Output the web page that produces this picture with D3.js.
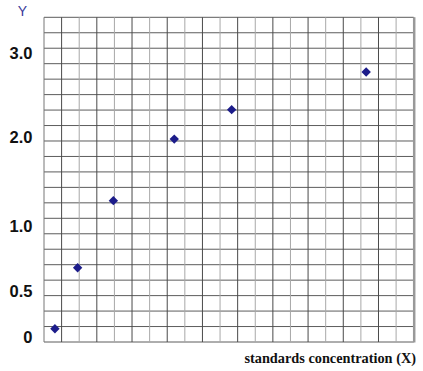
<!DOCTYPE html>
<html>
<head>
<meta charset="utf-8">
<script src="https://cdn.jsdelivr.net/npm/d3@7"></script>
<style>
  body { margin: 0; background: #fff; }
  svg { display: block; }
</style>
</head>
<body>
<svg width="423" height="371"></svg>
<script>
// Graph paper: 21 x 21 cells
let cellsX = 21;
let cellsY = 21;

// Hand written y labels (value positions on the paper)
let yTicks = [0, 0.5, 1.0, 2.0, 3.0];
let yTickLabels = ["0", "0.5", "1.0", "2.0", "3.0"];

// Standards (x in grid cells, y in absorbance units)
let stdX = [0.62, 1.91, 3.94, 7.40, 10.66, 18.30];
let stdY = [0.09, 0.68, 1.29, 1.98, 2.33, 2.78];

let svg = d3.select("svg");

let padLeft = 44, padRight = 413.7, padTop = 17.3, padBottom = 342;

let x = d3.scaleLinear().domain([0, cellsX]).range([padLeft, padRight]);
let gridY = d3.scaleLinear().domain([0, cellsY]).range([padBottom, padTop]);
// the labels are not evenly spaced on the paper
let y = d3.scaleLinear()
  .domain(yTicks)
  .range([337, 291, 226.5, 137.3, 53.5]);

// horizontal lines
svg.append("g")
  .selectAll("line")
  .data(d3.range(cellsY + 1))
  .enter()
  .append("line")
  .attr("x1", padLeft)
  .attr("x2", padRight)
  .attr("y1", d => gridY(d))
  .attr("y2", d => gridY(d))
  .attr("stroke", "#5c5c5c")
  .attr("stroke-width", 1);

// vertical lines, every other one darker
svg.append("g")
  .selectAll("line")
  .data(d3.range(cellsX + 1))
  .enter()
  .append("line")
  .attr("x1", d => x(d))
  .attr("x2", d => x(d))
  .attr("y1", padTop)
  .attr("y2", padBottom)
  .attr("stroke", d => d % 2 === 1 ? "#4a4a4a" : (d === 0 ? "#777" : "#a8a8a8"))
  .attr("stroke-width", 1);

// right edge of the paper
svg.append("line")
  .attr("x1", x(cellsX) + 0.5)
  .attr("x2", x(cellsX) + 0.5)
  .attr("y1", padTop)
  .attr("y2", padBottom + 0.5)
  .attr("stroke", "#999")
  .attr("stroke-width", 2.5);

// y labels
svg.append("g")
  .selectAll("text")
  .data(yTicks)
  .enter()
  .append("text")
  .attr("x", 32.5)
  .attr("y", d => y(d))
  .attr("dy", "0.36em")
  .attr("text-anchor", "end")
  .attr("font-family", "'Liberation Sans', Arial, sans-serif")
  .attr("font-weight", "bold")
  .attr("font-size", 16.5)
  .attr("fill", "#111")
  .text((d, i) => yTickLabels[i]);

svg.append("text")
  .attr("x", 22.5)
  .attr("y", 16)
  .attr("text-anchor", "middle")
  .attr("font-family", "'Liberation Sans', Arial, sans-serif")
  .attr("font-size", 14)
  .attr("fill", "#3a3a9a")
  .text("Y");

svg.append("text")
  .attr("x", 416)
  .attr("y", 363)
  .attr("text-anchor", "end")
  .attr("font-family", "'Liberation Serif', 'Times New Roman', serif")
  .attr("font-weight", "bold")
  .attr("font-size", 14.3)
  .attr("fill", "#111")
  .text("standards concentration (X)");

// points
let diamond = d3.symbol().type(d3.symbolSquare).size(44);
svg.append("g")
  .selectAll("path")
  .data(stdX)
  .enter()
  .append("path")
  .attr("d", diamond)
  .attr("transform", (d, i) => "translate(" + x(d) + "," + y(stdY[i]) + ") rotate(45)")
  .attr("fill", "#1c1c8a");
</script>
</body>
</html>
